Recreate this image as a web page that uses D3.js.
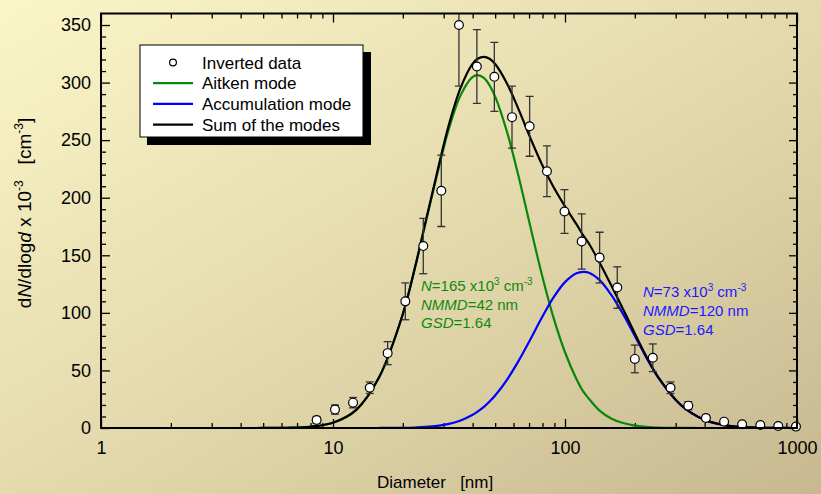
<!DOCTYPE html>
<html>
<head>
<meta charset="utf-8">
<script src="https://cdn.jsdelivr.net/npm/d3@7"></script>
<style>
  body { margin: 0; }
  text { font-family: "Liberation Sans", Arial, sans-serif; }
</style>
</head>
<body>
<div id="chart"></div>
<script>
// Size distribution: inverted data + two lognormal modes

// measured points (diameter nm, dN/dlogd x 1e-3, error)
var dataDiam = [8.5, 10.2, 12.2, 14.4, 17.2, 20.5, 24.5, 29.3, 34.9, 41.7, 49.6, 59.1, 70.4, 83.6,
                99.5, 118, 141, 168, 200, 239, 285, 340, 405, 485, 580, 695, 830, 990];
var dataVal  = [7, 16, 22, 35, 65, 110, 158, 206, 350, 314, 305, 270, 262, 223,
                188, 162, 148, 122, 60, 61, 35, 19.4, 8.7, 5.5, 3.2, 2.6, 1.7, 1.2];
var dataErr  = [3, 4, 4.5, 5, 10, 16, 24, 31, 53, 32, 30, 27, 26, 22,
                19, 24, 22, 18, 12, 12, 5, 3.5, 2.5, 2.5, 1.5, 1, 0.8, 0.5];

// fitted curves read along a common diameter grid (null = not drawn)
var curveDiam = [1, 1.58, 2.51, 3.98, 5.01, 6.31, 7.94, 10, 12.6, 15.8, 20, 22.4, 25.1, 28.2, 31.6,
                 35.5, 39.8, 42, 44.7, 47.3, 50.1, 56.2, 63.1, 70.8, 79.4, 89.1, 100, 112, 120, 126, 141, 158,
                 178, 200, 224, 251, 316, 398, 501, 631, 794, 1000];
var aitkenVal = [0, 0, 0, 0, 0.03, 0.2, 1.1, 4.6, 15.8, 44.0, 98.8, 136.5, 178.6, 221.3, 259.9,
                 289.1, 304.6, 306.4, 304.0, 297.6, 287.4, 257.4, 218.4, 175.5, 133.6, 96.3, 65.8, 42.6, 31.5, 26.1, 15.1, 8.3,
                 4.3, 2.1, 1.0, 0.4, 0.1, 0, null, null, null, null];
var accumVal  = [null, null, null, null, null, null, null, null, null, 0.03, 0.19, 0.43, 0.91, 1.86, 3.58,
                 6.52, 11.3, 14.3, 18.4, 23.1, 28.5, 41.9, 58.3, 76.7, 95.7, 113.2, 126.7, 134.4, 135.6, 135.0, 128.4, 115.8,
                 98.9, 80.0, 61.3, 44.5, 19.9, 7.2, 2.1, 0.5, 0.1, 0];
var sumVal    = [0, 0, 0, 0, 0.03, 0.2, 1.1, 4.6, 15.8, 44.0, 99.0, 136.9, 179.5, 223.2, 263.5,
                 295.6, 315.9, 320.7, 322.4, 320.7, 315.9, 299.3, 276.7, 252.2, 229.3, 209.5, 192.5, 177.0, 167.1, 161.1, 143.5, 124.1,
                 103.2, 82.1, 62.3, 44.9, 20.0, 7.2, 2.1, 0.5, 0.1, 0];

var xMajor = [1, 10, 100, 1000];
var yMajor = [0, 50, 100, 150, 200, 250, 300, 350];
var legendLabels = ["Inverted data", "Aitken mode", "Accumulation mode", "Sum of the modes"];
var aitkenNote = [["N", "=165 x10", "3", " cm", "-3"], ["NMMD", "=42 nm"], ["GSD", "=1.64"]];
var accumNote  = [["N", "=73 x10", "3", " cm", "-3"], ["NMMD", "=120 nm"], ["GSD", "=1.64"]];

(function () {
  var W = 821, H = 494;
  var margin = { top: 13.5, right: 24, bottom: 66, left: 101 };
  var x0 = margin.left, x1 = W - margin.right, y0 = H - margin.bottom, y1 = margin.top;

  var svg = d3.select("#chart").append("svg")
    .attr("width", W).attr("height", H);

  // background gradient
  var defs = svg.append("defs");
  var grad = defs.append("linearGradient").attr("id", "bg")
    .attr("x1", 0).attr("y1", 0).attr("x2", 1).attr("y2", 1);
  grad.append("stop").attr("offset", "0%").attr("stop-color", "#faf6c8");
  grad.append("stop").attr("offset", "55%").attr("stop-color", "#e2d7ab");
  grad.append("stop").attr("offset", "100%").attr("stop-color", "#c7b88f");
  svg.append("rect").attr("width", W).attr("height", H).attr("fill", "url(#bg)");

  defs.append("clipPath").attr("id", "plotclip").append("rect")
    .attr("x", x0).attr("y", y1).attr("width", x1 - x0).attr("height", y0 - y1);

  var x = d3.scaleLog().domain([1, 1000]).range([x0, x1]);
  var y = d3.scaleLinear().domain([0, 360]).range([y0, y1]);

  var xMinor = [];
  [1, 10, 100].forEach(function (dec) {
    for (var k = 2; k <= 9; k++) xMinor.push(k * dec);
  });
  var yMinor = d3.range(10, 360, 10).filter(function (v) { return v % 50 !== 0; });

  // axes (ticks pointing inward on all four sides)
  var axisFont = "18px";
  svg.append("g").attr("transform", "translate(0," + y0 + ")")
    .call(d3.axisBottom(x).tickValues(xMajor).tickSizeInner(-9).tickSizeOuter(0)
      .tickPadding(13).tickFormat(d3.format("d")))
    .call(function (g) { g.select(".domain").remove(); g.selectAll("text").attr("font-size", axisFont).attr("fill", "#000"); });
  svg.append("g").attr("transform", "translate(0," + y0 + ")")
    .call(d3.axisBottom(x).tickValues(xMinor).tickSizeInner(-5).tickSizeOuter(0).tickFormat(""))
    .call(function (g) { g.select(".domain").remove(); });
  svg.append("g").attr("transform", "translate(0," + y1 + ")")
    .call(d3.axisTop(x).tickValues(xMajor).tickSizeInner(-9).tickSizeOuter(0).tickFormat(""))
    .call(function (g) { g.select(".domain").remove(); });
  svg.append("g").attr("transform", "translate(0," + y1 + ")")
    .call(d3.axisTop(x).tickValues(xMinor).tickSizeInner(-5).tickSizeOuter(0).tickFormat(""))
    .call(function (g) { g.select(".domain").remove(); });

  svg.append("g").attr("transform", "translate(" + x0 + ",0)")
    .call(d3.axisLeft(y).tickValues(yMajor).tickSizeInner(-9).tickSizeOuter(0).tickPadding(10))
    .call(function (g) { g.select(".domain").remove(); g.selectAll("text").attr("font-size", axisFont).attr("fill", "#000"); });
  svg.append("g").attr("transform", "translate(" + x0 + ",0)")
    .call(d3.axisLeft(y).tickValues(yMinor).tickSizeInner(-5).tickSizeOuter(0).tickFormat(""))
    .call(function (g) { g.select(".domain").remove(); });
  svg.append("g").attr("transform", "translate(" + x1 + ",0)")
    .call(d3.axisRight(y).tickValues(yMajor).tickSizeInner(-8).tickSizeOuter(0).tickFormat(""))
    .call(function (g) { g.select(".domain").remove(); });
  svg.append("g").attr("transform", "translate(" + x1 + ",0)")
    .call(d3.axisRight(y).tickValues(yMinor).tickSizeInner(-4).tickSizeOuter(0).tickFormat(""))
    .call(function (g) { g.select(".domain").remove(); });

  svg.selectAll(".tick line").attr("stroke", "#000").attr("stroke-width", 1.3);

  // curves
  var plot = svg.append("g").attr("clip-path", "url(#plotclip)");
  function drawCurve(vals, color) {
    var pts = curveDiam.map(function (d, i) { return { d: d, v: vals[i] }; });
    var line = d3.line()
      .defined(function (p) { return p.v !== null; })
      .x(function (p) { return x(p.d); })
      .y(function (p) { return y(p.v); })
      .curve(d3.curveCatmullRom.alpha(0.5));
    plot.append("path").datum(pts)
      .attr("fill", "none").attr("stroke", color).attr("stroke-width", 2.2)
      .attr("d", line);
  }
  drawCurve(aitkenVal, "#0a870a");
  drawCurve(accumVal, "#0000ff");
  drawCurve(sumVal, "#000000");

  // data points with error bars
  var pts = dataDiam.map(function (d, i) { return { d: d, v: dataVal[i], e: dataErr[i] }; });
  var r = 4.4;
  var bars = plot.append("g").attr("stroke", "#333").attr("stroke-width", 1.3);
  pts.forEach(function (p) {
    var cx = x(p.d), cy = y(p.v), h = Math.abs(y(p.v + p.e) - cy);
    if (h > r) {
      bars.append("line").attr("x1", cx).attr("x2", cx).attr("y1", cy - h).attr("y2", cy - r);
      bars.append("line").attr("x1", cx).attr("x2", cx).attr("y1", cy + r).attr("y2", cy + h);
    }
  });
  svg.append("g").selectAll("circle").data(pts).enter().append("circle")
    .attr("cx", function (p) { return x(p.d); })
    .attr("cy", function (p) { return y(p.v); })
    .attr("r", r)
    .attr("fill", "#fff").attr("stroke", "#000").attr("stroke-width", 1.2);
  var caps = plot.append("g").attr("stroke", "#333").attr("stroke-width", 1.3);
  pts.forEach(function (p) {
    var cx = x(p.d), cy = y(p.v), h = Math.abs(y(p.v + p.e) - cy);
    if (h <= r) {
      caps.append("line").attr("x1", cx).attr("x2", cx).attr("y1", cy - h).attr("y2", cy + h);
    }
    [cy - h, cy + h].forEach(function (yy) {
      caps.append("line").attr("x1", cx - 4).attr("x2", cx + 4).attr("y1", yy).attr("y2", yy);
    });
  });

  // frame
  svg.append("rect").attr("x", x0).attr("y", y1).attr("width", x1 - x0).attr("height", y0 - y1)
    .attr("fill", "none").attr("stroke", "#000").attr("stroke-width", 2);

  // mode annotations
  function note(lines, xp, yp, step, color) {
    lines.forEach(function (parts, li) {
      var t = svg.append("text").attr("x", xp).attr("y", yp + li * step)
        .attr("font-size", "15px").attr("fill", color).attr("xml:space", "preserve");
      parts.forEach(function (s, k) {
        var ts = t.append("tspan").text(s);
        if (k === 0) ts.attr("font-style", "italic");
        if (k === 2 || k === 4) ts.attr("font-size", "10px").attr("dy", -6);
        if (k === 3) ts.attr("dy", 6);
      });
    });
  }
  note(aitkenNote, 421, 291, 18.7, "#0f8a0f");
  note(accumNote, 643, 297, 19, "#1a1aff");

  // axis titles
  svg.append("text").attr("x", 377).attr("y", 488).attr("font-size", "17px")
    .attr("xml:space", "preserve").text("Diameter   [nm]");

  var yt = svg.append("text").attr("transform", "translate(31,213) rotate(-90)")
    .attr("text-anchor", "middle").attr("font-size", "19px").attr("xml:space", "preserve");
  yt.append("tspan").text("d");
  yt.append("tspan").attr("font-style", "italic").text("N");
  yt.append("tspan").text("/dlog");
  yt.append("tspan").attr("font-style", "italic").text("d");
  yt.append("tspan").text(" x 10");
  yt.append("tspan").attr("font-size", "12px").attr("dy", -8).text("-3");
  yt.append("tspan").attr("dy", 8).text("   [cm");
  yt.append("tspan").attr("font-size", "12px").attr("dy", -8).text("-3");
  yt.append("tspan").attr("dy", 8).text("]");

  // legend
  var lg = svg.append("g");
  lg.append("rect").attr("x", 147).attr("y", 52).attr("width", 224).attr("height", 93).attr("fill", "#000");
  lg.append("rect").attr("x", 140).attr("y", 45).attr("width", 223).attr("height", 92)
    .attr("fill", "#fff").attr("stroke", "#000").attr("stroke-width", 1);
  var legendColors = [null, "#0a870a", "#0000ff", "#000000"];
  legendLabels.forEach(function (lab, i) {
    var cy = 62.5 + i * 20.7;
    if (i === 0) {
      lg.append("circle").attr("cx", 173).attr("cy", cy).attr("r", 3.4)
        .attr("fill", "#fff").attr("stroke", "#000").attr("stroke-width", 1.2);
    } else {
      lg.append("line").attr("x1", 153).attr("x2", 193).attr("y1", cy).attr("y2", cy)
        .attr("stroke", legendColors[i]).attr("stroke-width", 2.2);
    }
    lg.append("text").attr("x", 202).attr("y", cy + 6).attr("font-size", "17px").text(lab);
  });
})();
</script>
</body>
</html>
